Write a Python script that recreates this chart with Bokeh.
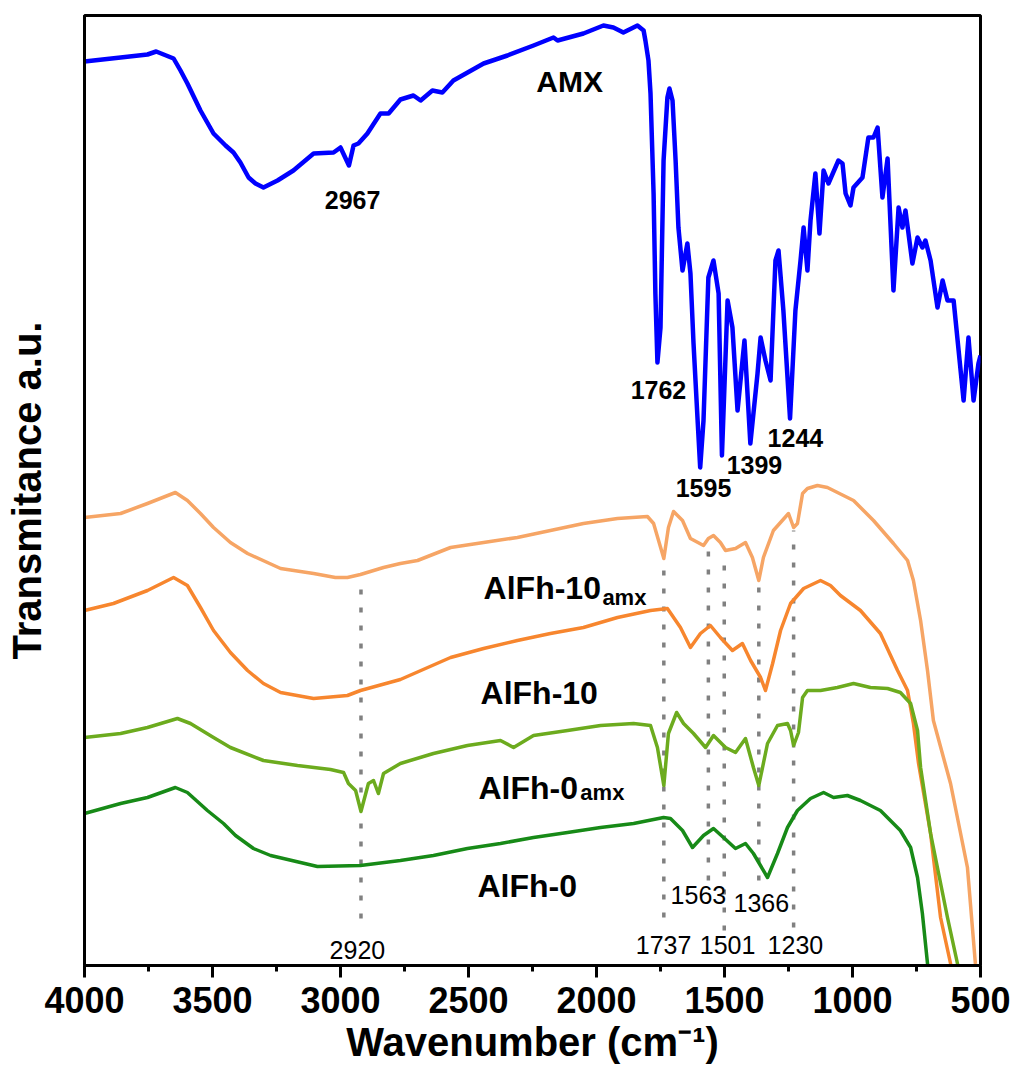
from bokeh.plotting import figure
from bokeh.models import Range1d, FixedTicker
from bokeh.core.properties import value
from bokeh.embed import file_html
from bokeh.resources import INLINE

FONT = "Liberation Sans"

# ---- FTIR spectra: wavenumber (cm-1) and stacked transmittance (a.u.) ----
amx_wn = [4000, 3859, 3754, 3720, 3652, 3625, 3598, 3547, 3496, 3449, 3418, 3391, 3359, 3332,
          3301, 3246, 3184, 3105,
          3027, 3000, 2967, 2949, 2930, 2895, 2844, 2812, 2766, 2715, 2687, 2641, 2602, 2559,
          2441, 2348, 2246, 2168, 2152, 2051, 1973, 1934, 1895, 1840, 1816, 1809, 1797, 1789,
          1777, 1770, 1762, 1750, 1738, 1723, 1715, 1703, 1691, 1680, 1664, 1645, 1633, 1621,
          1605, 1595, 1582, 1563, 1543, 1523, 1510, 1488, 1469, 1449, 1422, 1399, 1371, 1359,
          1340, 1320, 1301, 1289, 1270, 1244, 1223, 1203, 1191, 1176, 1164, 1145, 1129, 1113,
          1094, 1055, 1039, 1027, 1008, 996, 961, 938, 918, 902, 883, 863, 840, 820,
          805, 793, 766, 746, 727, 715, 695, 668, 648, 629, 605, 566, 547, 527, 508, 500]
amx_t = [90.4, 90.8, 91.1, 91.4, 90.7, 89.5, 88.2, 85.5, 83.2, 82.0, 81.3, 80.3, 78.8, 78.2,
         77.8, 78.5, 79.5, 81.2,
         81.3, 81.8, 80.0, 82.0, 82.2, 83.2, 85.2, 85.2, 86.6, 87.0, 86.5, 87.5, 87.3, 88.5,
         90.2, 91.0, 92.0, 92.8, 92.5, 93.2, 94.0, 93.8, 93.3, 94.0, 93.5, 92.5, 90.5, 87.2,
         77.2, 67.2, 60.3, 63.8, 80.5, 86.8, 87.7, 86.5, 80.5, 73.8, 69.5, 72.2, 69.2, 62.2,
         54.5, 49.8, 54.5, 68.8, 70.5, 67.2, 51.0, 66.5, 63.8, 55.5, 62.5, 52.2, 59.2, 62.8,
         60.5, 58.5, 70.5, 71.5, 65.5, 54.7, 65.5, 70.5, 73.8, 69.5, 74.5, 79.2, 73.2, 79.5,
         78.2, 80.5, 80.2, 77.2, 76.0, 77.8, 78.8, 82.8, 82.8, 83.8, 76.8, 80.7, 67.5, 75.8,
         73.8, 75.5, 70.2, 72.8, 71.8, 72.5, 70.5, 65.8, 68.5, 66.5, 66.5, 56.5, 62.8, 56.5, 60.2, 61.0]

alfh10amx_wn = [4000, 3859, 3754, 3645, 3598, 3547, 3496, 3430, 3363, 3234, 3105, 3020, 2973,
                2922, 2832, 2766, 2699, 2570, 2441, 2309, 2180, 2051, 1918, 1801, 1777, 1737,
                1719, 1699, 1664, 1633, 1582, 1563, 1543, 1516, 1496, 1457, 1418, 1391, 1366,
                1348, 1309, 1250, 1230, 1215, 1195, 1176, 1137, 1098, 996, 918, 840, 785, 762,
                734, 707, 684, 617, 551, 520, 508]
alfh10amx_t = [44.8, 45.2, 46.2, 47.3, 46.5, 45.2, 43.8, 42.3, 41.2, 39.7, 39.2, 38.8, 38.8,
               39.1, 39.8, 40.2, 40.5, 41.8, 42.3, 42.8, 43.5, 44.2, 44.7, 44.9, 44.2, 40.7,
               43.8, 45.4, 44.5, 42.7, 42.0, 42.7, 43.0, 42.3, 41.5, 41.7, 42.3, 40.8, 38.5,
               40.8, 43.5, 45.2, 43.8, 44.2, 47.2, 47.7, 48.0, 47.8, 46.5, 44.5, 42.2, 40.5, 38.5,
               34.5, 29.5, 24.5, 18.2, 9.8, 0.2, -2.5]

alfh10_wn = [4000, 3887, 3754, 3652, 3598, 3547, 3496, 3430, 3363, 3301, 3234, 3105, 2973,
             2922, 2766, 2570, 2441, 2309, 2180, 2051, 1918, 1789, 1723, 1672, 1633, 1594,
             1555, 1516, 1469, 1430, 1398, 1359, 1340, 1312, 1281, 1242, 1191, 1125, 1086,
             1047, 969, 891, 824, 785, 762, 742, 695, 656, 617, 609]
alfh10_t = [35.5, 36.2, 37.5, 38.8, 38.0, 35.8, 33.5, 31.3, 29.5, 28.2, 27.3, 26.7, 27.0,
            27.5, 28.6, 30.8, 31.7, 32.5, 33.2, 33.8, 34.8, 35.5, 35.7, 33.8, 31.8, 33.2,
            34.0, 32.8, 31.5, 32.2, 30.5, 28.8, 27.5, 30.2, 33.5, 36.2, 37.7, 38.5, 38.0,
            37.0, 35.5, 33.2, 29.5, 27.5, 24.2, 20.2, 13.2, 4.8, 0.2, -2.0]

alfh0amx_wn = [4000, 3859, 3754, 3637, 3586, 3496, 3430, 3301, 3168, 3039, 2988, 2969, 2941,
               2920, 2891, 2871, 2852, 2832, 2766, 2637, 2504, 2375, 2324, 2246, 2113, 1984,
               1855, 1789, 1762, 1737, 1719, 1687, 1660, 1621, 1574, 1543, 1496, 1457, 1418,
               1387, 1366, 1332, 1293, 1254, 1242, 1230, 1211, 1195, 1176, 1125, 1059, 996,
               930, 863, 813, 773, 746, 734, 695, 629, 590, 582]
alfh0amx_t = [22.8, 23.2, 23.8, 24.7, 24.2, 22.8, 21.8, 20.5, 20.0, 19.6, 19.3, 18.2, 17.5,
              15.4, 18.2, 18.5, 17.2, 19.2, 20.2, 21.2, 22.0, 22.5, 21.8, 23.0, 23.5, 24.0,
              24.2, 24.0, 21.8, 18.0, 23.2, 25.3, 24.2, 23.2, 21.8, 23.0, 21.8, 21.3, 22.7,
              19.8, 18.0, 22.2, 24.0, 24.2, 23.5, 22.0, 23.3, 26.8, 27.5, 27.5, 27.8, 28.2,
              27.8, 27.7, 27.3, 26.2, 23.5, 19.8, 13.2, 4.8, 0.2, -2.0]

alfh0_wn = [4000, 3859, 3754, 3645, 3598, 3520, 3457, 3410, 3340, 3273, 3223, 3090, 2922,
            2766, 2637, 2504, 2375, 2246, 2113, 1984, 1855, 1738, 1711, 1664, 1625, 1582,
            1543, 1504, 1457, 1418, 1387, 1332, 1293, 1254, 1215, 1164, 1113, 1074, 1020,
            969, 891, 813, 773, 746, 727, 707, 699]
alfh0_t = [15.2, 16.2, 16.8, 17.8, 17.3, 15.5, 14.2, 13.0, 11.7, 11.0, 10.7, 9.9, 10.0,
           10.5, 11.0, 11.7, 12.2, 12.8, 13.3, 13.8, 14.2, 14.8, 14.7, 13.5, 11.8, 13.0,
           13.7, 12.8, 11.7, 12.2, 11.2, 8.8, 11.2, 13.8, 15.5, 16.7, 17.3, 16.8, 17.0,
           16.5, 15.5, 13.5, 11.8, 8.8, 5.2, 0.2, -2.0]

# band positions marked with dotted guides, and their vertical extent
band_wn = [2920, 1737, 1563, 1501, 1366, 1230]
band_top = [38.8, 40.7, 41.7, 41.3, 38.3, 43.5]
band_bottom = [4.7, 4.8, 8.5, 3.5, 8.5, 3.8]

# AMX band labels (bold) and guide labels (regular)
amx_peaks = ["2967", "1762", "1595", "1399", "1244"]
amx_peak_x = [2953, 1758, 1582, 1383, 1223]
amx_peak_y = [76.6, 57.6, 47.8, 50.1, 52.8]
guide_labels = ["2920", "1737", "1501", "1230", "1563", "1366"]
guide_x = [2934, 1738, 1488, 1223, 1602, 1356]
guide_y = [1.6, 2.1, 2.1, 2.1, 7.1, 6.3]

x_ticks = [4000, 3500, 3000, 2500, 2000, 1500, 1000, 500]
x_minor = [3750, 3250, 2750, 2250, 1750, 1250, 750]

p = figure(width=1014, height=1070, output_backend="svg", toolbar_location=None,
           x_range=Range1d(4000, 500), y_range=Range1d(0, 95),
           min_border_left=84, min_border_right=34, min_border_top=15, min_border_bottom=105)
p.grid.visible = False
p.background_fill_color = "white"
p.border_fill_color = "white"
p.outline_line_color = "black"
p.outline_line_width = 3

xa = p.xaxis[0]
xa.ticker = FixedTicker(ticks=x_ticks, minor_ticks=x_minor)
xa.axis_line_width = 3
xa.major_tick_line_width = 3
xa.minor_tick_line_width = 3
xa.major_tick_out = 12
xa.major_tick_in = 0
xa.minor_tick_out = 6
xa.minor_tick_in = 0
xa.major_label_text_font = FONT
xa.major_label_text_font_style = "bold"
xa.major_label_text_font_size = "36px"
xa.major_label_text_color = "black"
xa.major_label_standoff = 9
xa.axis_label = "Wavenumber (cm\u207b\u00b9)"
xa.axis_label_text_font = FONT
xa.axis_label_text_font_style = "bold"
xa.axis_label_text_font_size = "40px"
xa.axis_label_text_color = "black"
xa.axis_label_standoff = 4

ya = p.yaxis[0]
ya.ticker = FixedTicker(ticks=[])
ya.axis_line_width = 3
ya.major_tick_out = 0
ya.major_tick_in = 0
ya.minor_tick_out = 0
ya.minor_tick_in = 0
ya.major_label_text_font_size = "0px"
ya.axis_label = "Transmitance a.u."
ya.axis_label_text_font = FONT
ya.axis_label_text_font_style = "bold"
ya.axis_label_text_font_size = "40px"
ya.axis_label_text_color = "black"
ya.axis_label_standoff = 36

# dotted guides through the characteristic bands
p.segment(x0=band_wn, y0=band_bottom, x1=band_wn, y1=band_top,
          line_color="#808080", line_width=3.5, line_dash="5 13")

# spectra
p.line(amx_wn, amx_t, line_color="#0000FF", line_width=4.5, line_join="round")
p.line(alfh10amx_wn, alfh10amx_t, line_color="#F6A565", line_width=3.5, line_join="round")
p.line(alfh10_wn, alfh10_t, line_color="#F7862E", line_width=3.5, line_join="round")
p.line(alfh0amx_wn, alfh0amx_t, line_color="#6CAB1E", line_width=3.5, line_join="round")
p.line(alfh0_wn, alfh0_t, line_color="#178A17", line_width=3.5, line_join="round")

# band labels
p.text(x=amx_peak_x, y=amx_peak_y, text=amx_peaks, text_font=value(FONT),
       text_font_style="bold", text_font_size="25px", text_align="center",
       text_baseline="middle", text_color="black")
p.text(x=guide_x, y=guide_y, text=guide_labels, text_font=value(FONT),
       text_font_style="normal", text_font_size="25px", text_align="center",
       text_baseline="middle", text_color="black")

# sample names
p.text(x=[2105], y=[88.4], text=["AMX"], text_font=value(FONT), text_font_style="bold",
       text_font_size="30px", text_align="center", text_baseline="middle", text_color="black")
p.text(x=[2441, 2453, 2461, 2465], y=[37.8, 27.3, 17.8, 8.0],
       text=["AlFh-10", "AlFh-10", "AlFh-0", "AlFh-0"], text_font=value(FONT),
       text_font_style="bold", text_font_size="32px", text_align="left",
       text_baseline="alphabetic", text_color="black")
p.text(x=[1977, 2063], y=[36.8, 17.3], text=["amx", "amx"], text_font=value(FONT),
       text_font_style="bold", text_font_size="22px", text_align="left",
       text_baseline="alphabetic", text_color="black")

open("out.html", "w").write(file_html(p, INLINE))
